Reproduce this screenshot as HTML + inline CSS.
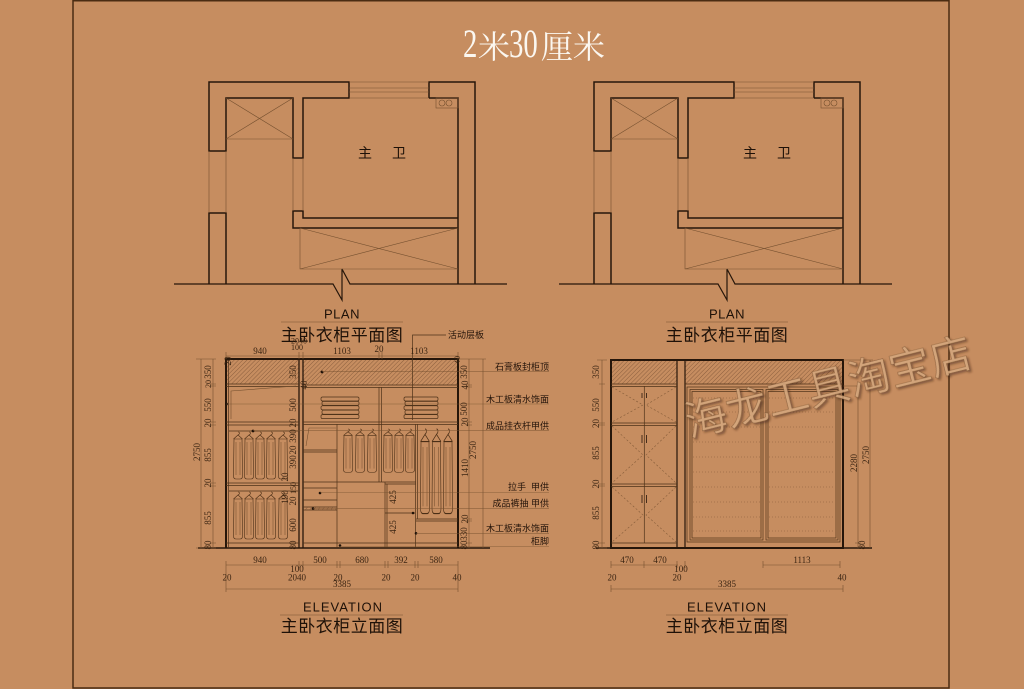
<!DOCTYPE html>
<html><head><meta charset="utf-8">
<style>
html,body{margin:0;padding:0;background:#c68d60;}
svg{display:block}
.t{font-family:"Liberation Serif","DejaVu Serif",serif;font-size:9px;fill:#3a2412}
.c{font-family:"Liberation Sans","Noto Sans CJK SC",sans-serif;font-size:9px;fill:#24140a}
.k{stroke:#26160a;fill:none}
.n{stroke:#4e3219;fill:none;stroke-width:.7}
.f{stroke:#75502f;fill:none;stroke-width:.6}
.lab{font-family:"Liberation Sans","Noto Sans CJK SC",sans-serif;fill:#1e1108}
</style></head><body>
<svg width="1024" height="689" viewBox="0 0 1024 689" xmlns="http://www.w3.org/2000/svg">
<defs>
<pattern id="h" width="3" height="3" patternUnits="userSpaceOnUse" patternTransform="rotate(45)"><line x1="0" y1="0" x2="0" y2="3" stroke="#85593a" stroke-width=".9"/></pattern>
<g id="gar" fill="none" stroke="#4a2e16" stroke-width=".6">
<path d="M5,0 q2,0 1.3,2 l-1.3,1 M5,3 L0.5,7 M5,3 L9.5,7"/>
<path d="M1,7 H9 L9.5,44 Q9.5,47 7,47 H3 Q0.5,47 0.5,44 Z"/>
<path d="M3,10 V43 M7,10 V43" stroke-width=".35"/>
</g>
<g id="plan">
 <path class="k" stroke-width="1.5" d="M209,151 V82 H349 V98 H303 V158 H293 V98 H226 V151 Z"/>
 <path class="k" stroke-width="1.5" d="M209,284 V213 H226 V284"/>
 <path class="k" stroke-width="1.5" d="M429,98 V82 H475 V284 M429,98 H458 V284"/>
 <path class="k" stroke-width="1.5" d="M458,218 H303 V211 H293 V228 H458"/>
 <path class="k" stroke-width="1.2" d="M174,284 H333 L342,300 V269 L350,284 H507"/>
 <path class="f" d="M209,151 V213 M226,151 V213 M293,158 V211 M303,158 V211"/>
 <path class="f" d="M349,82 H429 M349,88 H429 M349,92 H429 M349,98 H429"/>
 <path class="f" d="M226,139 H293 M226,98 L293,139 M293,98 L226,139"/>
 <path class="f" d="M300,228 V269 H458 M300,228 L458,269 M300,269 L458,228"/>
 <rect class="f" x="436" y="98" width="22" height="10"/>
 <circle class="f" cx="442" cy="103" r="3"/><circle class="f" cx="449" cy="103" r="3"/>
</g>
<filter id="emb" x="-10%" y="-30%" width="120%" height="160%"><feDropShadow dx="1.5" dy="2" stdDeviation="1" flood-color="#3a1f0c" flood-opacity=".55"/></filter>
</defs>

<!-- frame -->
<path d="M73,0.7 H949 M73,0 V688 H949 V0" stroke="#4a2c12" stroke-width="1.5" fill="none"/>

<!-- title -->
<text transform="translate(463,57) scale(0.72,1)" font-family="Liberation Serif,serif" font-size="40" fill="#fbf7f0">2</text>
<text x="478" y="58" font-family="Liberation Serif,'Noto Serif CJK SC',serif" font-size="32" fill="#fbf7f0">米</text>
<text transform="translate(509,57) scale(0.72,1)" font-family="Liberation Serif,serif" font-size="40" fill="#fbf7f0">30</text>
<text x="541" y="58" font-family="Liberation Serif,'Noto Serif CJK SC',serif" font-size="32" fill="#fbf7f0">厘米</text>

<!-- plans -->
<use href="#plan"/>
<use href="#plan" transform="translate(385,0)"/>
<text class="lab" x="365" y="158" font-size="14" text-anchor="middle">主</text>
<text class="lab" x="399" y="158" font-size="14" text-anchor="middle">卫</text>
<text class="lab" x="750" y="158" font-size="14" text-anchor="middle">主</text>
<text class="lab" x="784" y="158" font-size="14" text-anchor="middle">卫</text>

<text class="lab" x="342" y="318.5" font-size="13" text-anchor="middle" letter-spacing=".5">PLAN</text>
<line x1="281" y1="322" x2="403" y2="322" class="f"/>
<text class="lab" x="342" y="341" font-size="17" text-anchor="middle" letter-spacing=".5">主卧衣柜平面图</text>
<text class="lab" x="727" y="318.5" font-size="13" text-anchor="middle" letter-spacing=".5">PLAN</text>
<line x1="666" y1="322" x2="788" y2="322" class="f"/>
<text class="lab" x="727" y="341" font-size="17" text-anchor="middle" letter-spacing=".5">主卧衣柜平面图</text>

<!-- ============ LEFT ELEVATION ============ -->
<rect x="227" y="360" width="72" height="24" fill="url(#h)"/>
<rect x="303" y="360" width="155" height="25" fill="url(#h)"/>
<path class="k" stroke-width="2" d="M226,548 V359 H458 V548"/>
<line class="k" stroke-width="1.5" x1="198" y1="548" x2="490" y2="548"/>
<path class="k" stroke-width="1.3" d="M299,359 V548 M303,359 V548"/>
<path class="n" d="M228.5,360 V548"/>
<path class="n" stroke-width="1" d="M226,384 H299 M226,386.5 H299 M226,422 H299 M226,425 H299 M226,483 H299 M226,485.5 H299 M226,543 H299"/>
<path class="n" d="M229,431 H298 M229,491 H298"/>
<path class="f" d="M231,419 V391 L296,386"/>
<circle cx="253" cy="431" r="1.4" fill="#1e1108"/>
<circle cx="226.5" cy="404" r="1.4" fill="#1e1108"/>
<use href="#gar" x="233" y="432"/><use href="#gar" x="244" y="432"/><use href="#gar" x="255" y="432"/><use href="#gar" x="266" y="432"/><use href="#gar" x="278" y="432"/>
<use href="#gar" x="233" y="492"/><use href="#gar" x="244" y="492"/><use href="#gar" x="255" y="492"/><use href="#gar" x="266" y="492"/><use href="#gar" x="278" y="492"/>

<path class="n" stroke-width="1" d="M303,385 H458 M303,387.5 H458 M303,422 H458 M303,424.5 H458 M303,543 H458"/>
<path class="n" stroke-width="1" d="M379,387 V482 M381.5,387 V482"/>
<g class="n" stroke-width=".6">
<rect x="321" y="397" width="38" height="4" rx="1.5"/><rect x="322" y="401.4" width="37" height="4" rx="1.5"/><rect x="321" y="405.8" width="38" height="4" rx="1.5"/><rect x="322" y="410.2" width="37" height="4" rx="1.5"/><rect x="321" y="414.6" width="38" height="4" rx="1.5"/>
<rect x="404" y="397" width="34" height="4" rx="1.5"/><rect x="405" y="401.4" width="33" height="4" rx="1.5"/><rect x="404" y="405.8" width="34" height="4" rx="1.5"/><rect x="405" y="410.2" width="33" height="4" rx="1.5"/><rect x="404" y="414.6" width="34" height="4" rx="1.5"/>
</g>
<path class="n" d="M412.5,420 V335 H446"/>
<text class="c" x="448" y="338">活动层板</text>
<circle cx="322" cy="372" r="1.4" fill="#1e1108"/>

<path class="n" d="M337,424 V548 M303,450 H337 M303,452 H337 M303,482 H337 M303,488 H337 M303,500 H337 M303,507 H337 M303,510 H337"/>
<rect x="304" y="507" width="33" height="3" fill="url(#h)"/>
<path class="f" d="M306,446 L309,428 H336"/>
<circle cx="320" cy="493" r="1.3" fill="#1e1108"/><circle cx="313" cy="508.5" r="1.3" fill="#1e1108"/>
<use href="#gar" transform="translate(343,429) scale(1,0.92)"/><use href="#gar" transform="translate(355,429) scale(1,0.92)"/><use href="#gar" transform="translate(367,429) scale(1,0.92)"/>
<use href="#gar" transform="translate(383,429) scale(1,0.92)"/><use href="#gar" transform="translate(394,429) scale(1,0.92)"/><use href="#gar" transform="translate(405,429) scale(1,0.92)"/>
<path class="n" d="M337,482 H416 M385,484 H416 M415.5,424 V548 M417.5,424 V519"/>
<use href="#gar" transform="translate(420,429) scale(1,1.8)"/><use href="#gar" transform="translate(431.5,429) scale(1,1.8)"/><use href="#gar" transform="translate(443,429) scale(1,1.8)"/>
<path class="n" d="M416,519 H458 M416,521 H458 M385,482 V548 M387,484 V548 M385,513 H415"/>
<circle cx="413" cy="513" r="1.3" fill="#1e1108"/><circle cx="416" cy="533.3" r="1.3" fill="#1e1108"/><circle cx="340" cy="545.5" r="1.3" fill="#1e1108"/>

<!-- leaders & labels -->
<path class="f" stroke-opacity=".75" d="M322,371.7 H549 M226,404 H549 M253,430.7 H549 M320,492.5 H549 M313,508.3 H549 M416,533.3 H549 M340,546.5 H549"/>
<g class="c" text-anchor="end">
<text x="549" y="370">石膏板封柜顶</text>
<text x="549" y="402.5">木工板清水饰面</text>
<text x="549" y="429">成品挂衣杆甲供</text>
<text x="549" y="490" xml:space="preserve">拉手  甲供</text>
<text x="549" y="506.5">成品裤抽 甲供</text>
<text x="549" y="531.5">木工板清水饰面</text>
<text x="549" y="544.5">柜脚</text>
</g>

<!-- LE dims -->
<path class="f" d="M201,359 V548 M213,359 V548 M196,359 H216 M196,548 H216 M210,384 H216 M210,386 H216 M210,422 H216 M210,425 H216 M210,483 H216 M210,486 H216 M210,543 H216"/>
<path class="f" d="M469,359 V548 M483,359 V548 M458,359 H486 M466,385 H472 M466,387 H472 M466,422 H472 M466,425 H472 M466,519 H472 M466,521 H472 M466,543 H472"/>
<path class="f" d="M226,356 H458 M226,352 V359 M299,352 V359 M303,352 V359 M379,352 V359 M382,352 V359 M458,352 V359"/>
<path class="f" d="M226,565 H458 M226,589 H458 M226,561 V592 M299,561 V568 M303,561 V568 M337,561 V568 M340,561 V568 M385,561 V568 M388,561 V568 M415,561 V568 M418,561 V568 M458,561 V592"/>
<g class="t" text-anchor="middle">
<text x="260" y="354">940</text><text x="297" y="350" font-size="8">100</text><text x="299" y="343.5" font-size="8">2040</text>
<text x="342" y="354">1103</text><text x="379" y="352">20</text><text x="419" y="354">1103</text>
<text x="260" y="563">940</text><text x="320" y="563">500</text><text x="362" y="563">680</text><text x="401" y="563">392</text><text x="436" y="563">580</text>
<text x="297" y="572">100</text>
<text x="227" y="580.5">20</text><text x="297" y="580.5">2040</text><text x="338" y="580.5">20</text><text x="386" y="580.5">20</text><text x="415" y="580.5">20</text><text x="457" y="580.5">40</text>
<text x="342" y="587">3385</text>
</g>
<g class="t" text-anchor="middle">
<text transform="translate(200,452) rotate(-90)">2750</text>
<text transform="translate(231,361) rotate(-90)">20</text>
<text transform="translate(211,372) rotate(-90)">350</text>
<text transform="translate(211,384) rotate(-90)" font-size="8">20</text>
<text transform="translate(211,405) rotate(-90)">550</text>
<text transform="translate(211,423) rotate(-90)">20</text>
<text transform="translate(211,455) rotate(-90)">855</text>
<text transform="translate(211,483) rotate(-90)">20</text>
<text transform="translate(211,518) rotate(-90)">855</text>
<text transform="translate(211,545) rotate(-90)">80</text>
<text transform="translate(296,372) rotate(-90)">350</text>
<text transform="translate(307,385) rotate(-90)">40</text>
<text transform="translate(296,405) rotate(-90)">500</text>
<text transform="translate(296,423) rotate(-90)">20</text>
<text transform="translate(296,436) rotate(-90)">390</text>
<text transform="translate(296,450) rotate(-90)">20</text>
<text transform="translate(296,462) rotate(-90)">390</text>
<text transform="translate(288,477) rotate(-90)">20</text>
<text transform="translate(296,488) rotate(-90)" font-size="8">150</text>
<text transform="translate(288,497) rotate(-90)">190</text>
<text transform="translate(296,501) rotate(-90)">20</text>
<text transform="translate(296,525) rotate(-90)">600</text>
<text transform="translate(296,545) rotate(-90)">80</text>
<text transform="translate(396,497) rotate(-90)">425</text>
<text transform="translate(396,527) rotate(-90)">425</text>
<text transform="translate(467,372) rotate(-90)">350</text>
<text transform="translate(468,385) rotate(-90)">40</text>
<text transform="translate(467,409) rotate(-90)">500</text>
<text transform="translate(468,422) rotate(-90)">20</text>
<text transform="translate(468,468) rotate(-90)">1410</text>
<text transform="translate(476,450) rotate(-90)">2750</text>
<text transform="translate(468,519) rotate(-90)">20</text>
<text transform="translate(467,534) rotate(-90)">330</text>
<text transform="translate(467,545) rotate(-90)">80</text>
<text transform="translate(460,360) rotate(-90)" font-size="8">40</text>
</g>

<text class="lab" x="343" y="611.5" font-size="13" text-anchor="middle" letter-spacing="1">ELEVATION</text>
<line x1="280" y1="615" x2="403" y2="615" class="f"/>
<text class="lab" x="342" y="632" font-size="17" text-anchor="middle" letter-spacing=".5">主卧衣柜立面图</text>

<!-- ============ RIGHT ELEVATION ============ -->
<rect x="612" y="361" width="65" height="23" fill="url(#h)"/>
<rect x="685" y="361" width="157" height="23" fill="url(#h)"/>
<rect class="k" stroke-width="2" x="611" y="360" width="232" height="188"/>
<line class="k" stroke-width="1.5" x1="596" y1="548" x2="872" y2="548"/>
<path class="k" stroke-width="1.2" d="M677,360 V548 M685,360 V548"/>
<path class="n" stroke-width="1" d="M611,384 H677 M611,386.5 H677 M611,423 H677 M611,425.5 H677 M611,484 H677 M611,486.5 H677 M611,543 H677 M644.3,386 V543"/>
<path class="n" stroke-width="1" d="M685,384 H843"/>
<g class="f" stroke-dasharray="2 2" stroke-opacity=".8">
<path d="M612,387 L643,405 L612,422 M676,387 L646,405 L676,422"/>
<path d="M612,426 L643,455 L612,483 M676,426 L646,455 L676,483"/>
<path d="M612,487 L643,515 L612,542 M676,487 L646,515 L676,542"/>
</g>
<path class="k" stroke-width=".8" d="M642,393 V398 M646.5,393 V398 M642,435 V443 M646.5,435 V443 M642,495 V503 M646.5,495 V503"/>
<rect class="n" x="687" y="387" width="153" height="155"/>
<rect class="n" x="690" y="389.5" width="73" height="150.5"/>
<rect class="n" x="692" y="391.5" width="69" height="146.5"/>
<rect class="n" x="766" y="389.5" width="72" height="150.5"/>
<rect class="n" x="768" y="391.5" width="68" height="146.5"/>
<g class="f" stroke-dasharray="1 2" stroke-opacity=".8">
<path d="M693,398 H760 M693,412 H760 M693,427 H760 M693,442 H760 M693,457 H760 M693,472 H760 M693,487 H760 M693,502 H760 M693,517 H760 M693,531 H760"/>
<path d="M769,398 H835 M769,412 H835 M769,427 H835 M769,442 H835 M769,457 H835 M769,472 H835 M769,487 H835 M769,502 H835 M769,517 H835 M769,531 H835"/>
</g>

<!-- RE dims -->
<path class="f" d="M602,360 V548 M597,360 H607 M597,548 H607 M599,384 H605 M599,423 H605 M599,425 H605 M599,484 H605 M599,486 H605 M599,543 H605"/>
<path class="f" d="M858,386 V548 M870,360 V548 M843,360 H873 M843,386 H861 M855,543 H861"/>
<path class="f" d="M611,565 H678 M611,561 V568 M644,561 V568 M677,561 V568 M685,561 V568 M763,565 H840 M763,561 V568 M840,561 V568 M611,589 H843 M611,585 V592 M843,585 V592"/>
<g class="t" text-anchor="middle">
<text x="627" y="563">470</text><text x="660" y="563">470</text><text x="802" y="563">1113</text>
<text x="681" y="572">100</text>
<text x="612" y="580.5">20</text><text x="677" y="580.5">20</text><text x="842" y="580.5">40</text>
<text x="727" y="587">3385</text>
<text transform="translate(599,372) rotate(-90)">350</text>
<text transform="translate(599,405) rotate(-90)">550</text>
<text transform="translate(599,423.5) rotate(-90)">20</text>
<text transform="translate(599,453) rotate(-90)">855</text>
<text transform="translate(599,484) rotate(-90)">20</text>
<text transform="translate(599,513) rotate(-90)">855</text>
<text transform="translate(599,545) rotate(-90)">80</text>
<text transform="translate(857,463) rotate(-90)">2280</text>
<text transform="translate(869,455) rotate(-90)">2750</text>
<text transform="translate(865,545) rotate(-90)">80</text>
</g>

<text class="lab" x="727" y="611.5" font-size="13" text-anchor="middle" letter-spacing="1">ELEVATION</text>
<line x1="666" y1="615" x2="788" y2="615" class="f"/>
<text class="lab" x="727" y="632" font-size="17" text-anchor="middle" letter-spacing=".5">主卧衣柜立面图</text>

<!-- watermark -->
<text x="828" y="402" transform="rotate(-14 828 386)" text-anchor="middle" font-family="'Noto Sans CJK SC',sans-serif" font-size="42" fill="#d8aa80" fill-opacity=".85" stroke="#6a4426" stroke-width=".6" stroke-opacity=".6" filter="url(#emb)">海龙工具淘宝店</text>
</svg>
</body></html>
